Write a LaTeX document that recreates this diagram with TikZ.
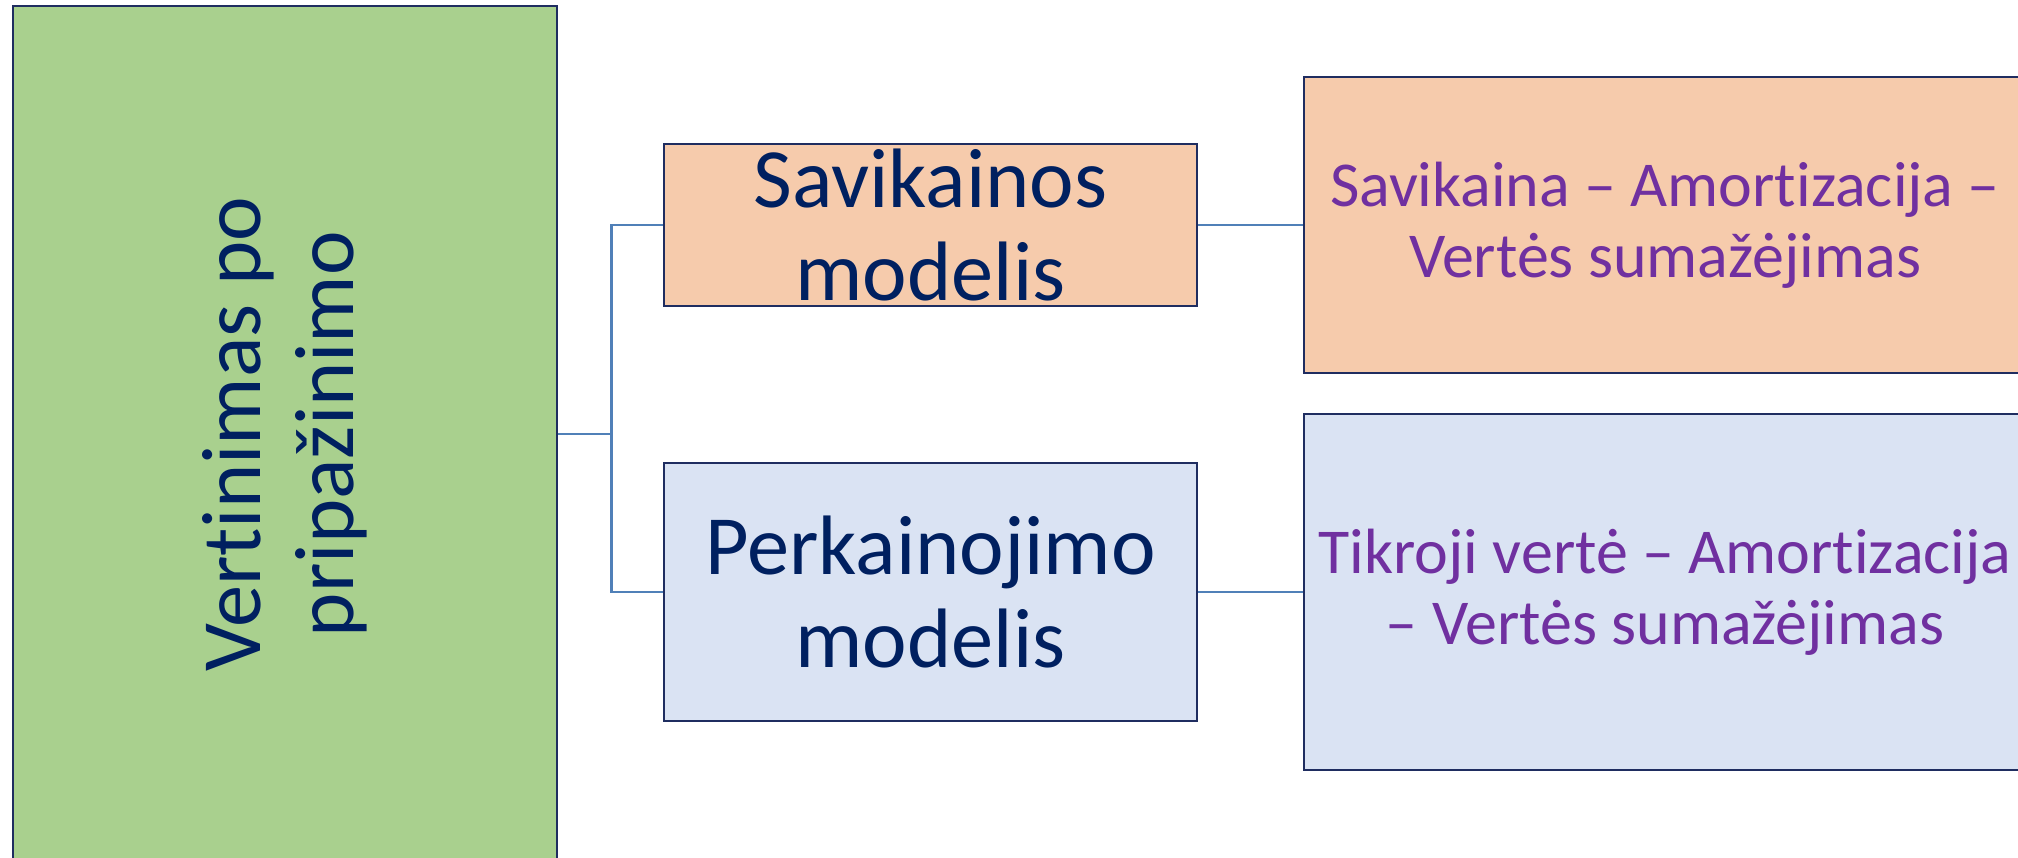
\documentclass[tikz,border=0pt]{standalone}
\usepackage{fontspec}
\setmainfont{Carlito}[Ligatures={NoCommon}]
\usepackage{tikz}

\definecolor{navy}{RGB}{0,32,96}
\definecolor{boxline}{RGB}{31,45,96}
\definecolor{conncol}{RGB}{80,128,184}
\definecolor{leafgreen}{RGB}{169,208,142}
\definecolor{peach}{RGB}{246,203,172}
\definecolor{paleblue}{RGB}{218,227,243}
\definecolor{violet}{RGB}{112,48,160}

\tikzset{
    box/.style={draw=boxline, line width=0.75pt, rectangle, inner sep=0pt},
    bigtxt/.style={text=navy, align=center, font=\fontsize{24}{26.5}\selectfont},
    smalltxt/.style={text=violet, align=center, font=\fontsize{18.2}{20.3}\selectfont},
    conn/.style={draw=conncol, line width=0.75pt}
}

\begin{document}
\begin{tikzpicture}
        \useasboundingbox (0,0) rectangle (20.18,-8.57);
        \node[box, fill=leafgreen, minimum width=5.44cm, minimum height=8.56cm](root) at (2.85,-4.34){};
        \node[bigtxt, rotate=90](roottxt) at (root){Vertinimas po\\pripažinimo};
        \node[box, fill=peach, minimum width=5.33cm, minimum height=1.62cm](sav) at (9.305,-2.25){};
        \node[bigtxt](savtxt) at (sav){Savikainos\\modelis};
        \node[box, fill=paleblue, minimum width=5.33cm, minimum height=2.58cm](perk) at (9.305,-5.92){};
        \node[bigtxt](perktxt) at (perk){Perkainojimo\\modelis};
        \node[box, fill=peach, minimum width=7.22cm, minimum height=2.96cm](savf) at (16.65,-2.25){};
        \node[smalltxt](savftxt) at (savf){Savikaina – Amortizacija –\\Vertės sumažėjimas};
        \node[box, fill=paleblue, minimum width=7.22cm, minimum height=3.56cm](perkf) at (16.65,-5.92){};
        \node[smalltxt](perkftxt) at (perkf){Tikroji vertė – Amortizacija\\– Vertės sumažėjimas};
        \draw[conn](root.east)--++(0.53,0) coordinate(jn);
        \draw[conn](sav.west)-|(jn)|-(perk.west);
        \draw[conn](sav.east)--(savf.west);
        \draw[conn](perk.east)--(perkf.west);
    \end{tikzpicture}
\end{document}
